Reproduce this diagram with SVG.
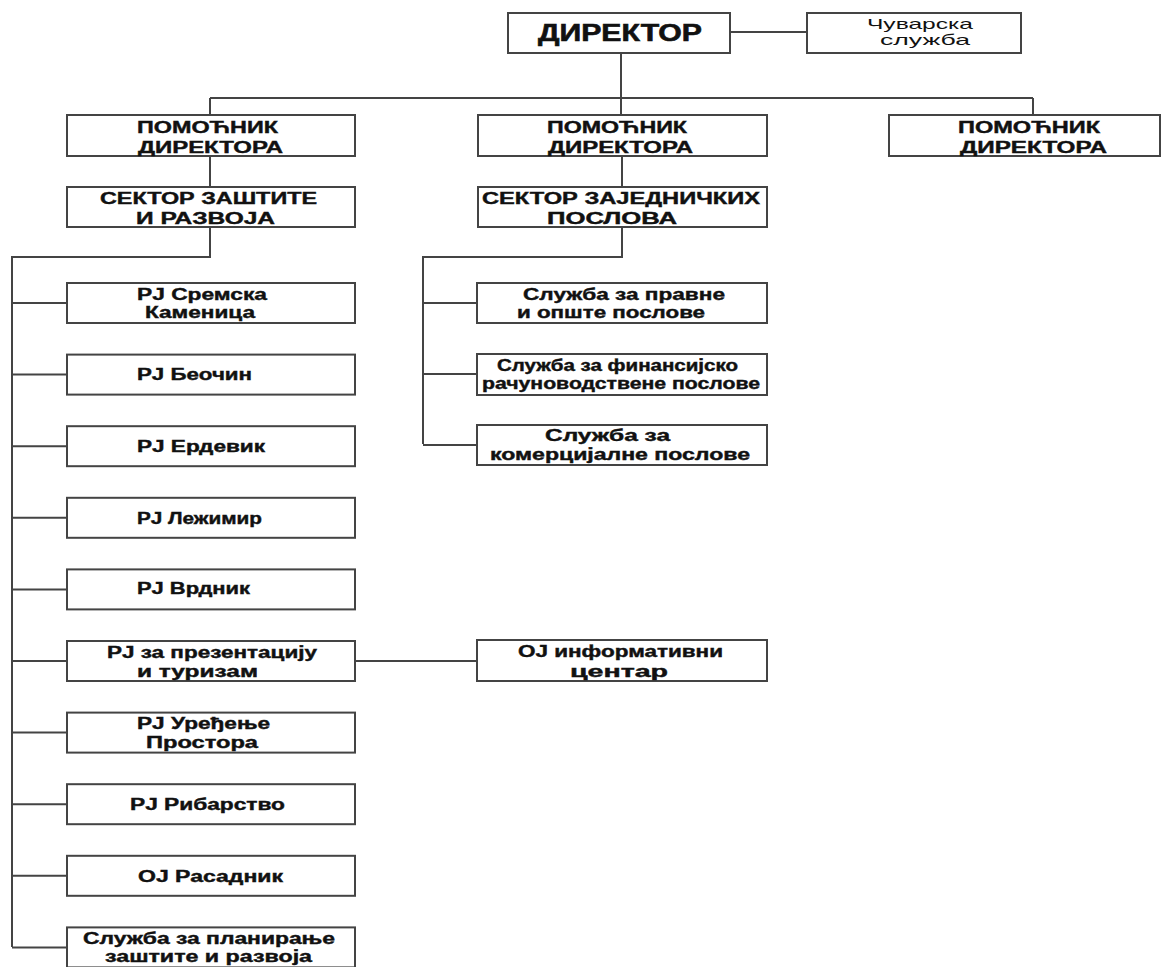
<svg xmlns="http://www.w3.org/2000/svg" width="1169" height="967" viewBox="0 0 1169 967">
<style>
.box{fill:#fff;stroke:#444;stroke-width:2}
.ln{fill:none;stroke:#444;stroke-width:2}
text{font-family:"Liberation Sans",Arial,sans-serif;font-weight:bold;font-size:16px;fill:#111;stroke:#111;stroke-width:0.4}
.big{font-size:23px;stroke-width:0.6}
.reg{font-weight:normal;font-size:15px;stroke-width:0}
</style>
<rect width="1169" height="967" fill="#fff"/>
<g id="connectors">
<path class="ln" d="M730 32H807"/>
<path class="ln" d="M621 53V115"/>
<path class="ln" d="M210 98H1033"/>
<path class="ln" d="M210 98V115M1033 98V115"/>
<path class="ln" d="M210 156V187M210 227V257H12V947"/>
<path class="ln" d="M622 156V187M622 227V257H423V444"/>
<path class="ln" d="M12 303H67M12 374.6H67M12 446.2H67M12 517.8H67M12 589.4H67M12 661H67M12 732.6H67M12 804.2H67M12 875.8H67M12 947.4H67"/>
<path class="ln" d="M423 303H477M423 374H477M423 445H477"/>
<path class="ln" d="M355 661H477"/>
</g>
<g id="director"><rect class="box" x="508" y="13" width="222" height="40"/><text class="big" x="538" y="41" textLength="164" lengthAdjust="spacingAndGlyphs">ДИРЕКТОР</text></g>
<g id="chuvarska"><rect class="box" x="807" y="13" width="214" height="40"/><text class="reg" x="867" y="29" textLength="106" lengthAdjust="spacingAndGlyphs">Чуварска</text><text class="reg" x="880" y="45" textLength="90" lengthAdjust="spacingAndGlyphs">служба</text></g>
<g id="pom1"><rect class="box" x="67" y="115" width="288" height="41"/><text x="137" y="133" textLength="141" lengthAdjust="spacingAndGlyphs">ПОМОЋНИК</text><text x="138" y="153" textLength="145" lengthAdjust="spacingAndGlyphs">ДИРЕКТОРА</text></g>
<g id="pom2"><rect class="box" x="478" y="115" width="289" height="41"/><text x="547" y="133" textLength="140" lengthAdjust="spacingAndGlyphs">ПОМОЋНИК</text><text x="548" y="153" textLength="145" lengthAdjust="spacingAndGlyphs">ДИРЕКТОРА</text></g>
<g id="pom3"><rect class="box" x="889" y="115" width="271" height="41"/><text x="958" y="133" textLength="142" lengthAdjust="spacingAndGlyphs">ПОМОЋНИК</text><text x="960" y="153" textLength="147" lengthAdjust="spacingAndGlyphs">ДИРЕКТОРА</text></g>
<g id="sektor1"><rect class="box" x="67" y="187" width="288" height="40"/><text x="100" y="204" textLength="217" lengthAdjust="spacingAndGlyphs">СЕКТОР ЗАШТИТЕ</text><text x="136" y="224" textLength="139" lengthAdjust="spacingAndGlyphs">И РАЗВОЈА</text></g>
<g id="sektor2"><rect class="box" x="478" y="187" width="289" height="40"/><text x="482" y="204" textLength="278" lengthAdjust="spacingAndGlyphs">СЕКТОР ЗАЈЕДНИЧКИХ</text><text x="547" y="224" textLength="130" lengthAdjust="spacingAndGlyphs">ПОСЛОВА</text></g>
<g id="pj1"><rect class="box" x="67" y="283" width="288" height="40"/><text x="137" y="300" textLength="130" lengthAdjust="spacingAndGlyphs">PJ Сремска</text><text x="145" y="318" textLength="110" lengthAdjust="spacingAndGlyphs">Каменица</text></g>
<g id="pj2"><rect class="box" x="67" y="354.6" width="288" height="40"/><text x="137" y="380" textLength="115" lengthAdjust="spacingAndGlyphs">PJ Беочин</text></g>
<g id="pj3"><rect class="box" x="67" y="426.2" width="288" height="40"/><text x="137" y="452" textLength="128" lengthAdjust="spacingAndGlyphs">PJ Ердевик</text></g>
<g id="pj4"><rect class="box" x="67" y="497.8" width="288" height="40"/><text x="137" y="524" textLength="125" lengthAdjust="spacingAndGlyphs">PJ Лежимир</text></g>
<g id="pj5"><rect class="box" x="67" y="569.4" width="288" height="40"/><text x="137" y="594" textLength="113" lengthAdjust="spacingAndGlyphs">PJ Врдник</text></g>
<g id="pj6"><rect class="box" x="67" y="641" width="288" height="40"/><text x="107" y="658" textLength="210" lengthAdjust="spacingAndGlyphs">PJ за презентацију</text><text x="137" y="677" textLength="121" lengthAdjust="spacingAndGlyphs">и туризам</text></g>
<g id="pj7"><rect class="box" x="67" y="712.6" width="288" height="40"/><text x="137" y="729" textLength="133" lengthAdjust="spacingAndGlyphs">PJ Уређење</text><text x="146" y="748" textLength="112" lengthAdjust="spacingAndGlyphs">Простора</text></g>
<g id="pj8"><rect class="box" x="67" y="784.2" width="288" height="40"/><text x="130" y="810" textLength="155" lengthAdjust="spacingAndGlyphs">PJ Рибарство</text></g>
<g id="oj1"><rect class="box" x="67" y="855.8" width="288" height="40"/><text x="138" y="882" textLength="145" lengthAdjust="spacingAndGlyphs">OJ Расадник</text></g>
<g id="sl-plan"><rect class="box" x="67" y="927.4" width="288" height="40"/><text x="83" y="944" textLength="252" lengthAdjust="spacingAndGlyphs">Служба за планирање</text><text x="105" y="962" textLength="207" lengthAdjust="spacingAndGlyphs">заштите и развоја</text></g>
<g id="sl-pravne"><rect class="box" x="477" y="283" width="290" height="40"/><text x="523" y="300" textLength="202" lengthAdjust="spacingAndGlyphs">Служба за правне</text><text x="517" y="318" textLength="188" lengthAdjust="spacingAndGlyphs">и опште послове</text></g>
<g id="sl-fin"><rect class="box" x="477" y="354" width="290" height="41"/><text x="497" y="371" textLength="241" lengthAdjust="spacingAndGlyphs">Служба за финансијско</text><text x="482" y="389" textLength="278" lengthAdjust="spacingAndGlyphs">рачуноводствене послове</text></g>
<g id="sl-kom"><rect class="box" x="477" y="425" width="290" height="40"/><text x="545" y="441" textLength="125" lengthAdjust="spacingAndGlyphs">Служба за</text><text x="490" y="460" textLength="260" lengthAdjust="spacingAndGlyphs">комерцијалне послове</text></g>
<g id="oj-info"><rect class="box" x="477" y="640" width="290" height="41"/><text x="518" y="657" textLength="205" lengthAdjust="spacingAndGlyphs">OJ информативни</text><text x="570" y="677" textLength="98" lengthAdjust="spacingAndGlyphs">центар</text></g>
</svg>
